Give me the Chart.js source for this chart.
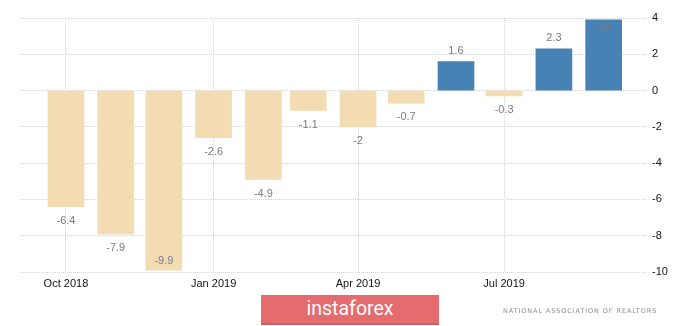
<!DOCTYPE html>
<html>
<head>
<meta charset="utf-8">
<script src="https://cdn.jsdelivr.net/npm/chart.js@4/dist/chart.umd.min.js"></script>
<style>
  body { margin: 0; background: #fff; overflow: hidden; }
  #wrap { position: relative; width: 700px; height: 326px; }
  #badge {
    position: absolute; left: 261px; top: 295px; width: 178px; height: 28px;
    background: #e46c6e; border-bottom: 2px solid #cf5f61;
    color: #fff; font-family: Roboto, sans-serif; font-size: 19.5px;
    line-height: 28px; text-align: center;
  }
  #source {
    position: absolute; left: 503px; top: 307px;
    font-family: "DejaVu Sans", sans-serif; font-size: 6.5px;
    letter-spacing: 0.9px; color: #8c8c96;
  }
</style>
</head>
<body>
<div id="wrap">
  <canvas id="chart" width="700" height="326"></canvas>
  <div id="badge">instaforex</div>
  <div id="source">NATIONAL ASSOCIATION OF REALTORS</div>
</div>
<script>
const months = ["2018-10", "2018-11", "2018-12", "2019-01", "2019-02", "2019-03",
                "2019-04", "2019-05", "2019-06", "2019-07", "2019-08", "2019-09"];
const values = [-6.4, -7.9, -9.9, -2.6, -4.9, -1.1, -2, -0.7, 1.6, -0.3, 2.3, 3.9];
const tickMonths = ["2018-10", "2019-01", "2019-04", "2019-07"];
const tickLabels = ["Oct 2018", "Jan 2019", "Apr 2019", "Jul 2019"];

// days since the first month, so bars sit on a real time spacing
const start = Date.UTC(2018, 9, 1);
function dayOf(m) {
  const [y, mo] = m.split("-").map(Number);
  return (Date.UTC(y, mo - 1, 1) - start) / 864e5;
}

const points = months.map((m, i) => ({ x: dayOf(m), y: values[i] }));
const tickDays = tickMonths.map(dayOf);

// value labels: under negative bars, over positive ones, kept inside the plot
const barLabels = {
  id: "barLabels",
  afterDatasetsDraw(chart) {
    const { ctx, chartArea } = chart;
    const meta = chart.getDatasetMeta(0);
    ctx.save();
    ctx.font = '11px "Liberation Sans", Arial, sans-serif';
    ctx.fillStyle = "#777a88";
    ctx.textAlign = "center";
    ctx.textBaseline = "middle";
    meta.data.forEach((bar, i) => {
      const v = values[i];
      let y;
      if (v < 0) y = Math.min(bar.y + 14, chartArea.bottom - 11);
      else y = Math.max(bar.y - 11, chartArea.top + 11);
      ctx.fillText(String(v), bar.x, y);
    });
    ctx.restore();
  }
};

new Chart(document.getElementById("chart"), {
  type: "bar",
  data: {
    datasets: [{
      data: points,
      backgroundColor: values.map(v => v < 0 ? "#f3dcb2" : "#4682b4"),
      barThickness: 36,
    }],
  },
  options: {
    responsive: false,
    animation: false,
    layout: { padding: { left: 21, top: 18, right: 0, bottom: 0 } },
    plugins: { legend: { display: false }, tooltip: { enabled: false } },
    scales: {
      x: {
        type: "linear",
        offset: false,
        min: -28,
        max: 362,
        afterBuildTicks: (scale) => {
          scale.ticks = tickDays.map(d => ({ value: d }));
        },
        afterFit: (scale) => { scale.height = 54; },
        ticks: {
          callback: (val) => tickLabels[tickDays.indexOf(val)],
          font: { family: '"Liberation Sans", Arial, sans-serif', size: 11 },
          color: "#111",
          padding: 5,
          maxRotation: 0,
          autoSkip: false,
        },
        grid: { color: "#d2d2d2", drawTicks: false, offset: false },
        border: { display: false, dash: [1, 1] },
      },
      y: {
        position: "right",
        min: -10,
        max: 4,
        afterFit: (scale) => { scale.width = 53; },
        ticks: {
          stepSize: 2,
          font: { family: '"Liberation Sans", Arial, sans-serif', size: 11 },
          color: "#111",
          padding: 5,
        },
        grid: { color: "#d2d2d2", drawTicks: false },
        border: { display: false, dash: [1, 1] },
      },
    },
  },
  plugins: [barLabels],
});
</script>
</body>
</html>
